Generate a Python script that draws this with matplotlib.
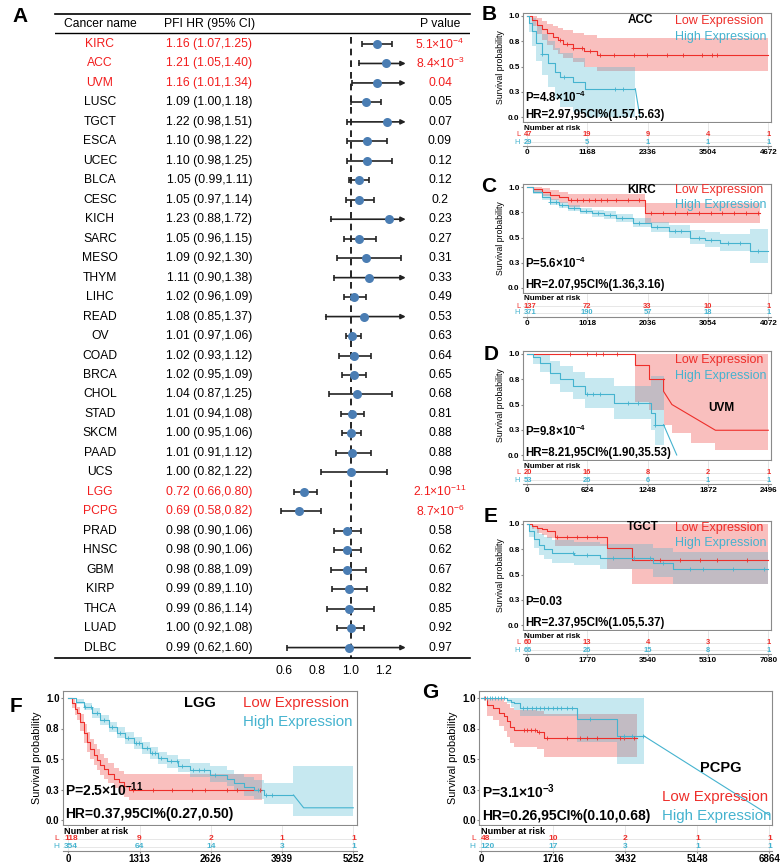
import numpy as np
import matplotlib
matplotlib.use('Agg')
import matplotlib.pyplot as plt
from matplotlib.transforms import blended_transform_factory

plt.rcParams['font.family'] = ['Liberation Sans', 'DejaVu Sans']
plt.rcParams['mathtext.default'] = 'regular'

# ---------------- panel A data ----------------
cancers = ['KIRC', 'ACC', 'UVM', 'LUSC', 'TGCT', 'ESCA', 'UCEC', 'BLCA', 'CESC', 'KICH',
           'SARC', 'MESO', 'THYM', 'LIHC', 'READ', 'OV', 'COAD', 'BRCA', 'CHOL', 'STAD',
           'SKCM', 'PAAD', 'UCS', 'LGG', 'PCPG', 'PRAD', 'HNSC', 'GBM', 'KIRP', 'THCA',
           'LUAD', 'DLBC']
hr = [1.16, 1.21, 1.16, 1.09, 1.22, 1.10, 1.10, 1.05, 1.05, 1.23, 1.05, 1.09, 1.11, 1.02,
      1.08, 1.01, 1.02, 1.02, 1.04, 1.01, 1.00, 1.01, 1.00, 0.72, 0.69, 0.98, 0.98, 0.98,
      0.99, 0.99, 1.00, 0.99]
hr_lo = [1.07, 1.05, 1.01, 1.00, 0.98, 0.98, 0.98, 0.99, 0.97, 0.88, 0.96, 0.92, 0.90, 0.96,
         0.85, 0.97, 0.93, 0.95, 0.87, 0.94, 0.95, 0.91, 0.82, 0.66, 0.58, 0.90, 0.90, 0.88,
         0.89, 0.86, 0.92, 0.62]
hr_hi = [1.25, 1.40, 1.34, 1.18, 1.51, 1.22, 1.25, 1.11, 1.14, 1.72, 1.15, 1.30, 1.38, 1.09,
         1.37, 1.06, 1.12, 1.09, 1.25, 1.08, 1.06, 1.12, 1.22, 0.80, 0.82, 1.06, 1.06, 1.09,
         1.10, 1.14, 1.08, 1.60]
pvals = [5.1e-4, 8.4e-3, 0.04, 0.05, 0.07, 0.09, 0.12, 0.12, 0.2, 0.23, 0.27, 0.31, 0.33,
         0.49, 0.53, 0.63, 0.64, 0.65, 0.68, 0.81, 0.88, 0.88, 0.98, 2.1e-11, 8.7e-6, 0.58,
         0.62, 0.67, 0.82, 0.85, 0.92, 0.97]
forest_ticks = [0.6, 0.8, 1.0, 1.2]

# ---------------- KM data (time, survival, CI low, CI high, censor times) ----------------
# B: ACC
acc_low_t = [0, 100, 200, 300, 400, 500, 600, 700, 900, 1100, 1350]
acc_low_s = [1.0, 0.96, 0.91, 0.87, 0.83, 0.79, 0.76, 0.72, 0.68, 0.65, 0.61]
acc_low_lo = [1.0, 0.9, 0.82, 0.76, 0.71, 0.66, 0.62, 0.58, 0.54, 0.5, 0.46]
acc_low_hi = [1.0, 1.0, 0.98, 0.95, 0.92, 0.9, 0.88, 0.86, 0.83, 0.81, 0.78]
acc_low_cens = [650, 780, 900, 1060, 1230, 1420, 1680, 2070, 2320, 2710, 3030, 3390, 3580, 3680]
acc_high_t = [0, 50, 100, 180, 290, 420, 550, 650, 900, 1130]
acc_high_s = [1.0, 0.93, 0.85, 0.73, 0.62, 0.53, 0.45, 0.40, 0.35, 0.28]
acc_high_lo = [1.0, 0.84, 0.7, 0.55, 0.42, 0.3, 0.18, 0.1, 0.05, 0.0]
acc_high_hi = [1.0, 1.0, 0.98, 0.9, 0.82, 0.75, 0.68, 0.63, 0.58, 0.5]
acc_high_cens = [300, 720, 1700, 1870]
acc_ticks = [0, 1168, 2336, 3504, 4672]
acc_risk_low = [47, 19, 9, 4, 1]
acc_risk_high = [29, 5, 1, 1, 1]

# C: KIRC
kirc_low_t = [0, 100, 250, 400, 550, 700, 2000]
kirc_low_s = [1.0, 0.98, 0.95, 0.92, 0.9, 0.87, 0.74]
kirc_low_lo = [1.0, 0.95, 0.91, 0.87, 0.84, 0.8, 0.64]
kirc_low_hi = [1.0, 1.0, 0.99, 0.97, 0.95, 0.93, 0.84]
kirc_low_cens = [750, 850, 950, 1050, 1150, 1250, 1350, 1500, 1700, 1900, 2100, 2300, 2500,
                 2700, 2900, 3100, 3300, 3500, 3700, 3900]
kirc_high_t = [0, 100, 250, 400, 550, 700, 900, 1100, 1300, 1500, 1800, 2100, 2400, 2750,
               3000, 3250, 3760]
kirc_high_s = [1.0, 0.95, 0.9, 0.85, 0.82, 0.79, 0.76, 0.74, 0.72, 0.69, 0.64, 0.6, 0.56,
               0.5, 0.48, 0.45, 0.37]
kirc_high_lo = [1.0, 0.93, 0.87, 0.82, 0.79, 0.76, 0.73, 0.7, 0.68, 0.65, 0.6, 0.55, 0.5,
                0.44, 0.41, 0.37, 0.25]
kirc_high_hi = [1.0, 0.97, 0.93, 0.88, 0.85, 0.82, 0.79, 0.77, 0.76, 0.73, 0.69, 0.65, 0.62,
                0.57, 0.55, 0.53, 0.58]
kirc_high_cens = [400, 500, 600, 800, 1000, 1200, 1400, 1600, 1900, 2200, 2500, 2600, 2900,
                  3100, 3400, 3600, 3900]
kirc_ticks = [0, 1018, 2036, 3054, 4072]
kirc_risk_low = [137, 72, 33, 10, 1]
kirc_risk_high = [371, 190, 57, 18, 1]

# D: UVM
uvm_low_t = [0, 1120, 1260, 1414, 1500, 1700, 1950]
uvm_low_s = [1.0, 0.89, 0.75, 0.63, 0.5, 0.37, 0.245]
uvm_low_lo = [1.0, 0.52, 0.45, 0.3, 0.22, 0.12, 0.05]
uvm_low_hi = [1.0, 1.0, 1.0, 1.0, 1.0, 1.0, 1.0]
uvm_low_tail = [(1414, 0.63), (1500, 0.5), (1950, 0.245), (2496, 0.245)]
uvm_low_cens = [450, 620, 720, 790, 930]
uvm_high_t = [0, 70, 140, 240, 345, 480, 600, 900, 1280, 1330]
uvm_high_s = [1.0, 0.97, 0.91, 0.81, 0.75, 0.68, 0.6, 0.51, 0.42, 0.3]
uvm_high_lo = [1.0, 0.9, 0.82, 0.7, 0.62, 0.55, 0.47, 0.36, 0.25, 0.1]
uvm_high_hi = [1.0, 1.0, 0.99, 0.93, 0.88, 0.82, 0.76, 0.68, 0.78, 0.78]
uvm_high_tail = [(1550, 0.0)]
uvm_high_cens = [620, 690, 760, 1050, 1150, 1330]
uvm_ticks = [0, 624, 1248, 1872, 2496]
uvm_risk_low = [20, 16, 8, 2, 1]
uvm_risk_high = [53, 26, 6, 1, 1]

# E: TGCT
tgct_low_t = [0, 150, 300, 450, 600, 830, 2350, 3080]
tgct_low_s = [1.0, 0.98, 0.96, 0.95, 0.93, 0.875, 0.76, 0.64]
tgct_low_lo = [1.0, 0.95, 0.91, 0.89, 0.86, 0.78, 0.55, 0.41]
tgct_low_hi = [1.0, 1.0, 1.0, 1.0, 1.0, 1.0, 1.0, 1.0]
tgct_low_cens = [880, 1170, 1470, 1760, 2050, 3910, 4500, 5090, 5580, 6460]
tgct_high_t = [0, 80, 200, 350, 500, 730, 1400, 2150, 3700, 4300]
tgct_high_s = [1.0, 0.93, 0.85, 0.79, 0.75, 0.71, 0.69, 0.66, 0.61, 0.55]
tgct_high_lo = [1.0, 0.87, 0.76, 0.69, 0.65, 0.61, 0.59, 0.55, 0.48, 0.41]
tgct_high_hi = [1.0, 0.99, 0.95, 0.9, 0.87, 0.84, 0.82, 0.8, 0.76, 0.72]
tgct_high_cens = [1370, 1760, 2540, 3130, 3620, 4000, 4790, 5180, 6060, 6950]
tgct_ticks = [0, 1770, 3540, 5310, 7080]
tgct_risk_low = [60, 13, 4, 3, 1]
tgct_risk_high = [66, 26, 15, 8, 1]

# F: LGG
lgg_low_t = [0, 60, 120, 160, 220, 283, 340, 405, 470, 528, 590, 651, 740, 835, 930, 1020, 1110]
lgg_low_s = [1.0, 0.96, 0.91, 0.875, 0.8, 0.71, 0.64, 0.58, 0.53, 0.49, 0.45, 0.42, 0.38,
             0.34, 0.31, 0.28, 0.25]
lgg_low_lo = [1.0, 0.92, 0.86, 0.82, 0.73, 0.63, 0.56, 0.5, 0.45, 0.41, 0.37, 0.34, 0.3,
              0.26, 0.22, 0.19, 0.16]
lgg_low_hi = [1.0, 0.99, 0.96, 0.93, 0.87, 0.79, 0.72, 0.66, 0.62, 0.58, 0.54, 0.51, 0.47,
              0.43, 0.4, 0.38, 0.38]
lgg_low_cens = [1200, 1570, 1910, 2280, 2520, 2920, 3110, 3540]
lgg_high_t = [0, 150, 283, 440, 590, 750, 897, 1050, 1204, 1360, 1511, 1660, 1818, 2030,
              2248, 2617, 2924, 3047, 3230, 3415, 3600, 4150]
lgg_high_s = [1.0, 0.97, 0.93, 0.88, 0.82, 0.76, 0.71, 0.67, 0.63, 0.59, 0.55, 0.51, 0.48,
              0.44, 0.41, 0.37, 0.34, 0.30, 0.27, 0.245, 0.205, 0.205]
lgg_high_lo = [1.0, 0.95, 0.9, 0.84, 0.78, 0.72, 0.67, 0.62, 0.58, 0.54, 0.5, 0.46, 0.43,
               0.39, 0.35, 0.31, 0.28, 0.24, 0.2, 0.17, 0.13, 0.03]
lgg_high_hi = [1.0, 0.99, 0.96, 0.92, 0.86, 0.8, 0.76, 0.72, 0.68, 0.64, 0.6, 0.56, 0.53,
               0.5, 0.47, 0.44, 0.41, 0.38, 0.35, 0.33, 0.3, 0.44]
lgg_high_tail = [(4337, 0.10), (5252, 0.10)]
lgg_high_cens = [300, 420, 520, 650, 800, 950, 1100, 1250, 1300, 1450, 1550, 1600, 1700,
                 1900, 2000, 2100, 2300, 2400, 2500, 2700, 3500, 3650, 3750]
lgg_ticks = [0, 1313, 2626, 3939, 5252]
lgg_risk_low = [118, 9, 2, 1, 1]
lgg_risk_high = [354, 64, 14, 3, 1]

# G: PCPG
pcpg_low_t = [0, 135, 290, 410, 530, 610, 690, 770, 1330, 1490]
pcpg_low_s = [1.0, 0.94, 0.915, 0.88, 0.85, 0.81, 0.765, 0.74, 0.72, 0.67]
pcpg_low_lo = [1.0, 0.85, 0.82, 0.77, 0.73, 0.68, 0.63, 0.6, 0.58, 0.52]
pcpg_low_hi = [1.0, 1.0, 1.0, 0.99, 0.97, 0.95, 0.92, 0.9, 0.89, 0.87]
pcpg_low_cens = [100, 1010, 1100, 1190, 1280, 1370, 1570, 2040, 2360, 2520, 2760, 3310,
                 3390, 3630]
pcpg_high_t = [0, 612, 700, 771, 929, 2280, 3234]
pcpg_high_s = [1.0, 0.985, 0.97, 0.955, 0.915, 0.825, 0.69]
pcpg_high_lo = [1.0, 0.96, 0.93, 0.9, 0.85, 0.64, 0.46]
pcpg_high_hi = [1.0, 1.0, 1.0, 1.0, 1.0, 1.0, 1.0]
pcpg_high_tail = [(6864, 0.04)]
pcpg_high_cens = [60, 130, 200, 260, 330, 400, 470, 540, 1000, 1100, 1200, 1300, 1400, 1500,
                  1600, 1700, 1800, 1900, 2050, 2150, 2600, 3400, 3600, 3850]
pcpg_ticks = [0, 1716, 3432, 5148, 6864]
pcpg_risk_low = [48, 10, 2, 1, 1]
pcpg_risk_high = [120, 17, 3, 1, 1]

# ---------------- style ----------------
W, H = 784, 868
RED = '#EE2E2A'
BLUE = '#45B3CF'
TXT_RED = '#F21D1D'
DOT = '#4A7DB3'

fig = plt.figure(figsize=(W / 100, H / 100), dpi=100)


def px_axes(x0, y0, x1, y1):
    return fig.add_axes([x0 / W, 1 - y1 / H, (x1 - x0) / W, (y1 - y0) / H])


def fmt_p(p):
    if p < 0.01:
        m, e = f'{p:.1e}'.split('e')
        return m + r'$\times$10$^{' + str(int(e)) + '}$'
    return f'{p:g}'


# ---------------- panel A: forest table ----------------
row0, step = 44, 19.47
fx0, fx1, x_one, ppu = 55, 470, 350.7, 166.7
axA = px_axes(fx0, 14, fx1, 657.7)
axA.set_xlim(1 + (fx0 - x_one) / ppu, 1 + (fx1 - x_one) / ppu)
axA.set_ylim((657.7 - row0) / step, (14 - row0) / step)
for sp in ['left', 'right']:
    axA.spines[sp].set_visible(False)
for sp in ['top', 'bottom']:
    axA.spines[sp].set_linewidth(1.2)
axA.set_yticks([])
axA.set_xticks(forest_ticks)
axA.set_xticklabels([f'{v:.1f}' for v in forest_ticks])
axA.tick_params(axis='x', length=0, labelsize=8.7, pad=5)
tr = blended_transform_factory(axA.transAxes, axA.transData)
col_name = (100 - fx0) / (fx1 - fx0)
col_hr = (209.5 - fx0) / (fx1 - fx0)
col_p = (440 - fx0) / (fx1 - fx0)
y_head = (24 - row0) / step
y_hline = (33 - row0) / step
axA.axhline(y_hline, color='k', lw=1.0)
axA.text(col_name, y_head, 'Cancer name', transform=tr, ha='center', va='center', fontsize=8.7)
axA.text(col_hr, y_head, 'PFI HR (95% CI)', transform=tr, ha='center', va='center', fontsize=8.7)
axA.text(col_p, y_head, 'P value', transform=tr, ha='center', va='center', fontsize=8.7)
axA.plot([1, 1], [y_hline + 0.2, (657.7 - row0) / step], color='k', lw=1.2,
         dashes=(4, 3), zorder=1)
clip = 1.33
for i, name in enumerate(cancers):
    col = TXT_RED if pvals[i] < 0.05 else 'black'
    axA.text(col_name, i, name, transform=tr, ha='center', va='center', fontsize=8.7, color=col)
    axA.text(col_hr, i, f'{hr[i]:.2f} ({hr_lo[i]:.2f},{hr_hi[i]:.2f})', transform=tr,
             ha='center', va='center', fontsize=8.7, color=col)
    axA.text(col_p, i, fmt_p(pvals[i]), transform=tr, ha='center', va='center',
             fontsize=8.7, color=col)
    if hr_hi[i] > clip:
        axA.annotate('', xy=(clip, i), xytext=(hr_lo[i], i),
                     arrowprops=dict(arrowstyle='-|>', color='#222222', lw=1.2,
                                     mutation_scale=7, shrinkA=0, shrinkB=0))
        axA.plot(hr_lo[i], i, marker='|', color='#222222', ms=5, mew=1.2)
    else:
        axA.errorbar(hr[i], i, xerr=[[hr[i] - hr_lo[i]], [hr_hi[i] - hr[i]]], fmt='none',
                     ecolor='#222222', elinewidth=1.2, capsize=2.5, capthick=1.2)
    axA.plot(hr[i], i, 'o', color=DOT, ms=6.5, mec='none', zorder=4)


# ---------------- KM helpers ----------------
def draw_curve(ax, t, s, lo, hi, line_end, fill_end, tail, cens, color):
    t, s, lo, hi = map(np.asarray, (t, s, lo, hi))
    m = t < line_end
    xs = np.append(t[m], line_end)
    ys = np.append(s[m], s[m][-1])
    ax.step(xs, ys, where='post', color=color, lw=0.8, zorder=3)
    if tail:
        ax.plot([line_end] + [p[0] for p in tail], [s[m][-1]] + [p[1] for p in tail],
                color=color, lw=0.8, zorder=3)
    f = t < fill_end
    fx = np.append(t[f], fill_end)
    ax.fill_between(fx, np.append(lo[f], lo[f][-1]), np.append(hi[f], hi[f][-1]),
                    step='post', color=color, alpha=0.3, lw=0, zorder=1)
    cens = np.asarray(cens)
    cy = s[m][np.searchsorted(t[m], cens, side='right') - 1]
    ax.plot(cens, cy, '+', color=color, ms=3, mew=0.6, zorder=4)


def km_panel(box, t0px, tTpx, y1px, y0px, T, low, high, ticks, rlow, rhigh, rows,
             title, title_xy, leg_x, leg_y, p_txt, p_y, hr_txt, hr_y, fs):
    x0, yt, x1, yb = box
    ax = px_axes(x0, yt, x1, yb)
    sx = (tTpx - t0px) / T
    xlim = ((x0 - t0px) / sx, (x1 - t0px) / sx)
    sy = y0px - y1px
    ax.set_xlim(xlim)
    ax.set_ylim((y0px - yb) / sy, (y0px - yt) / sy)
    for sp in ax.spines.values():
        sp.set_color('#8a8a8a')
        sp.set_linewidth(0.8)
    ax.set_xticks([])
    ax.set_yticks([0, 0.25, 0.5, 0.75, 1.0])
    ax.set_yticklabels(['0.0', '0.3', '0.5', '0.8', '1.0'], fontweight='bold')
    ax.tick_params(axis='y', length=1.5, pad=1, labelsize=fs['tick'], color='#8a8a8a')
    ax.set_ylabel('Survival probability', fontsize=fs['ylab'], labelpad=fs['lpad'])
    draw_curve(ax, *low, RED)
    draw_curve(ax, *high, BLUE)
    ax.text(title_xy[0], title_xy[1], title, transform=ax.transAxes, ha='center',
            va='center', fontsize=fs['title'], fontweight='bold')
    ax.text(leg_x, leg_y[0], 'Low Expression', transform=ax.transAxes, ha='left',
            va='center', fontsize=fs['leg'], color=RED)
    ax.text(leg_x, leg_y[1], 'High Expression', transform=ax.transAxes, ha='left',
            va='center', fontsize=fs['leg'], color=BLUE)
    ax.text(0.008, p_y, p_txt, transform=ax.transAxes, ha='left', va='center',
            fontsize=fs['stat'], fontweight='bold')
    ax.text(0.008, hr_y, hr_txt, transform=ax.transAxes, ha='left', va='center',
            fontsize=fs['stat'], fontweight='bold')

    # risk table (y in pixel units)
    nar_y, l_y, h_y, ax_y = rows
    rax = px_axes(x0, nar_y - 5, x1, ax_y)
    rax.set_xlim(xlim)
    rax.set_ylim(ax_y, nar_y - 5)
    for sp in ['top', 'left', 'right']:
        rax.spines[sp].set_visible(False)
    rax.spines['bottom'].set_color('#8a8a8a')
    rax.spines['bottom'].set_linewidth(0.8)
    rax.set_yticks([])
    rax.set_xticks(ticks)
    rax.set_xticklabels([str(v) for v in ticks], fontweight='bold')
    rax.tick_params(axis='x', length=1.5, pad=1, labelsize=fs['tick'], color='#8a8a8a')
    for yy in (l_y, h_y):
        rax.axhline(yy, color='#e3e3e3', lw=0.6, zorder=0)
    for tt in ticks:
        rax.axvline(tt, color='#e3e3e3', lw=0.6, zorder=0)
    rtr = blended_transform_factory(rax.transAxes, rax.transData)
    rax.text(0.005, nar_y, 'Number at risk', transform=rtr, ha='left', va='center',
             fontsize=fs['nar'], fontweight='bold')
    rax.text(-0.012, l_y, 'L', transform=rtr, ha='right', va='center', fontsize=fs['risk'],
             color=RED)
    rax.text(-0.012, h_y, 'H', transform=rtr, ha='right', va='center', fontsize=fs['risk'],
             color=BLUE)
    for k, (tt, a, b) in enumerate(zip(ticks, rlow, rhigh)):
        if k == 0:
            # first column is pushed right so it starts at the panel edge
            for val, yy, c in ((a, l_y, RED), (b, h_y, BLUE)):
                rax.text(0.004, yy, str(val), transform=rtr, ha='left', va='center',
                         fontsize=fs['risk'], color=c, fontweight='bold')
            continue
        rax.text(tt, l_y, str(a), ha='center', va='center', fontsize=fs['risk'], color=RED,
                 fontweight='bold')
        rax.text(tt, h_y, str(b), ha='center', va='center', fontsize=fs['risk'], color=BLUE,
                 fontweight='bold')


small = dict(tick=5.8, ylab=6.3, lpad=2, title=8.5, leg=9.0, stat=8.3, nar=5.8, risk=5.4)
big = dict(tick=7.0, ylab=7.8, lpad=3, title=10.5, leg=10.8, stat=10.0, nar=6.6, risk=6.0)


def small_geom(y1):
    return dict(box=(523, y1 - 3, 771, y1 + 106), t0px=526.7, tTpx=768.3, y1px=y1,
                y0px=y1 + 101, rows=(y1 + 112, y1 + 119, y1 + 126, y1 + 130))


g = small_geom(16)
km_panel(g['box'], g['t0px'], g['tTpx'], g['y1px'], g['y0px'], 4672,
         (acc_low_t, acc_low_s, acc_low_lo, acc_low_hi, 4672, 4672, None, acc_low_cens),
         (acc_high_t, acc_high_s, acc_high_lo, acc_high_hi, 2100, 2100, [(2190, 0.0)],
          acc_high_cens),
         acc_ticks, acc_risk_low, acc_risk_high, g['rows'],
         'ACC', (0.472, 0.936), 0.613, (0.927, 0.78),
         r'P=4.8$\times$10$^{-4}$', 0.229, 'HR=2.97,95CI%(1.57,5.63)', 0.064, small)

g = small_geom(187)
km_panel(g['box'], g['t0px'], g['tTpx'], g['y1px'], g['y0px'], 4072,
         (kirc_low_t, kirc_low_s, kirc_low_lo, kirc_low_hi, 3940, 3940, None, kirc_low_cens),
         (kirc_high_t, kirc_high_s, kirc_high_lo, kirc_high_hi, 4072, 4072, None,
          kirc_high_cens),
         kirc_ticks, kirc_risk_low, kirc_risk_high, g['rows'],
         'KIRC', (0.479, 0.945), 0.613, (0.945, 0.807),
         r'P=5.6$\times$10$^{-4}$', 0.272, 'HR=2.07,95CI%(1.36,3.16)', 0.073, small)

g = small_geom(354)
km_panel(g['box'], g['t0px'], g['tTpx'], g['y1px'], g['y0px'], 2496,
         (uvm_low_t, uvm_low_s, uvm_low_lo, uvm_low_hi, 1414, 2496, uvm_low_tail,
          uvm_low_cens),
         (uvm_high_t, uvm_high_s, uvm_high_lo, uvm_high_hi, 1414, 1414, uvm_high_tail,
          uvm_high_cens),
         uvm_ticks, uvm_risk_low, uvm_risk_high, g['rows'],
         'UVM', (0.80, 0.474), 0.613, (0.917, 0.773),
         r'P=9.8$\times$10$^{-4}$', 0.26, 'HR=8.21,95CI%(1.90,35.53)', 0.061, small)

g = small_geom(524)
km_panel(g['box'], g['t0px'], g['tTpx'], g['y1px'], g['y0px'], 7080,
         (tgct_low_t, tgct_low_s, tgct_low_lo, tgct_low_hi, 7080, 7080, None, tgct_low_cens),
         (tgct_high_t, tgct_high_s, tgct_high_lo, tgct_high_hi, 7080, 7080, None,
          tgct_high_cens),
         tgct_ticks, tgct_risk_low, tgct_risk_high, g['rows'],
         'TGCT', (0.483, 0.948), 0.613, (0.933, 0.795),
         'P=0.03', 0.26, 'HR=2.37,95CI%(1.05,5.37)', 0.064, small)

big_rows = (698 + 133, 698 + 141, 698 + 149, 698 + 153)
km_panel((63, 690.7, 357, 825), 68.3, 353.3, 698, 820, 5252,
         (lgg_low_t, lgg_low_s, lgg_low_lo, lgg_low_hi, 3570, 3570, None, lgg_low_cens),
         (lgg_high_t, lgg_high_s, lgg_high_lo, lgg_high_hi, 4150, 5252, lgg_high_tail,
          lgg_high_cens),
         lgg_ticks, lgg_risk_low, lgg_risk_high, big_rows,
         'LGG', (0.466, 0.908), 0.611, (0.908, 0.767),
         r'P=2.5$\times$10$^{-11}$', 0.26, 'HR=0.37,95CI%(0.27,0.50)', 0.08, big)

km_panel((479.3, 690.7, 772, 825), 481.3, 769.3, 698, 820, 6864,
         (pcpg_low_t, pcpg_low_s, pcpg_low_lo, pcpg_low_hi, 3710, 3710, None, pcpg_low_cens),
         (pcpg_high_t, pcpg_high_s, pcpg_high_lo, pcpg_high_hi, 3870, 3870, pcpg_high_tail,
          pcpg_high_cens),
         pcpg_ticks, pcpg_risk_low, pcpg_risk_high, big_rows,
         'PCPG', (0.824, 0.422), 0.624, (0.206, 0.067),
         r'P=3.1$\times$10$^{-3}$', 0.248, 'HR=0.26,95CI%(0.10,0.68)', 0.067, big)

# panel letters
for lab, (lx, ly) in zip('ABCDEFG', [(20, 17), (489, 14), (489, 186), (491, 355),
                                     (491, 517), (16, 706), (430, 693)]):
    fig.text(lx / W, 1 - ly / H, lab, ha='center', va='center', fontsize=15,
             fontweight='bold')

fig.savefig('out.png', dpi=100)
